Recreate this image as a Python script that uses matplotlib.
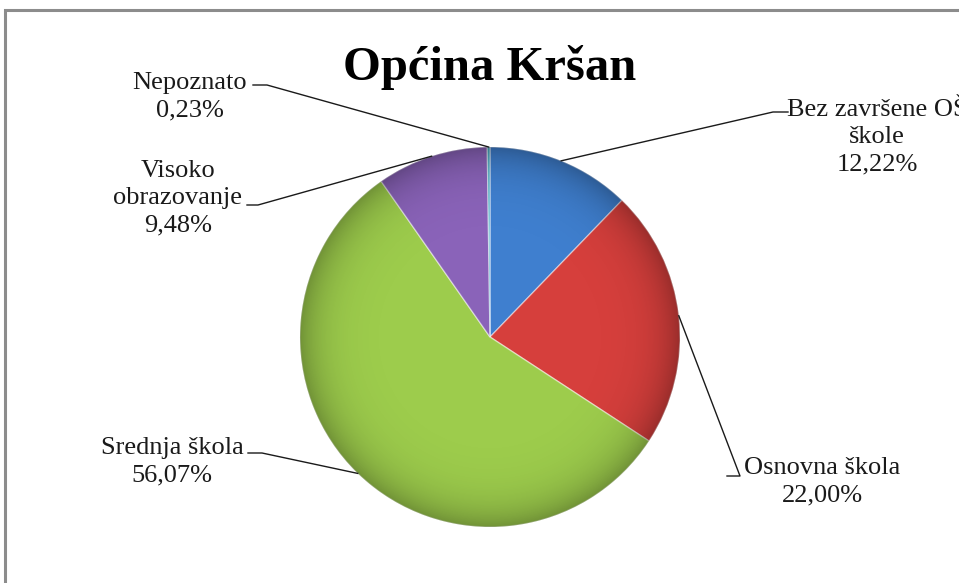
import numpy as np
import matplotlib
matplotlib.use("Agg")
import matplotlib.pyplot as plt
from matplotlib.patches import Rectangle, Circle

# data
categories = ["Bez završene OŠ\nškole", "Osnovna škola", "Srednja škola",
              "Visoko\nobrazovanje", "Nepoznato"]
shares = [12.22, 22.00, 56.07, 9.48, 0.23]
colors = ["#3f7fcf", "#d63f3c", "#9dcc4c", "#8a63b9", "#4bacc6"]
title = "Općina Kršan"

# layout in pixels (y measured from top)
W, H = 959, 583
cx, cy, R = 490, 337, 190
label_pos = [(877, 137), (822, 482), (172, 462), (178, 198), (190, 97)]
# elbow of leader line: (x where it bends, y, x where it meets text)
elbows = [(773, 112, 788), (740, 476, 727), (262, 453, 248),
          (258, 205, 247), (267, 85, 253)]

plt.rcParams['font.family'] = ['Liberation Serif', 'DejaVu Serif']

fig = plt.figure(figsize=(W / 100, H / 100), dpi=100)
ax = fig.add_axes([0, 0, 1, 1])


def py(y):
    return H - y


wedges, _ = ax.pie(shares, colors=colors, startangle=90, counterclock=False,
                   center=(cx, py(cy)), radius=R, frame=True,
                   wedgeprops=dict(edgecolor=(1, 1, 1, 0.45), linewidth=1.0))
ax.set_xlim(0, W)
ax.set_ylim(0, H)
ax.set_aspect('equal')
ax.axis('off')

# soft rim shading to mimic the bevelled look
n = 400
xs = np.linspace(-1, 1, n)
xx, yy = np.meshgrid(xs, xs)
rr = np.sqrt(xx ** 2 + yy ** 2)
shade = np.zeros((n, n, 4))
shade[..., 3] = np.clip(0.28 * rr ** 8, 0, 0.28)
img = ax.imshow(shade, extent=(cx - R, cx + R, py(cy) - R, py(cy) + R),
                zorder=3, interpolation='bilinear')
img.set_clip_path(Circle((cx, py(cy)), R, transform=ax.transData))

# labels and leader lines
cum = np.cumsum([0] + shares)
for i, (cat, val) in enumerate(zip(categories, shares)):
    mid = (cum[i] + val / 2) / 100 * 360
    ang = np.deg2rad(90 - mid)
    ax_x = cx + R * np.cos(ang)
    ax_y = py(cy) + R * np.sin(ang)
    bx, by, tx = elbows[i]
    ax.plot([ax_x, bx, tx], [ax_y, py(by), py(by)], color='#1a1a1a',
            lw=1.0, zorder=4)
    txt = cat + "\n" + f"{val:.2f}".replace('.', ',') + "%"
    lx, ly = label_pos[i]
    ax.text(lx, py(ly), txt, ha='center', va='center', fontsize=19,
            linespacing=1.3, color='#1a1a1a', zorder=5)

ax.text(490, py(68), title, ha='center', va='center', fontsize=35,
        fontweight='bold', color='black')

# chart frame (cut off on right and bottom)
fig.patches.append(Rectangle((5 / W, -0.1), 1.2, (H - 10) / H + 0.1,
                             transform=fig.transFigure, fill=False,
                             edgecolor='#8c8c8c', linewidth=2.2))

fig.savefig("out.png", dpi=100, facecolor='white')
